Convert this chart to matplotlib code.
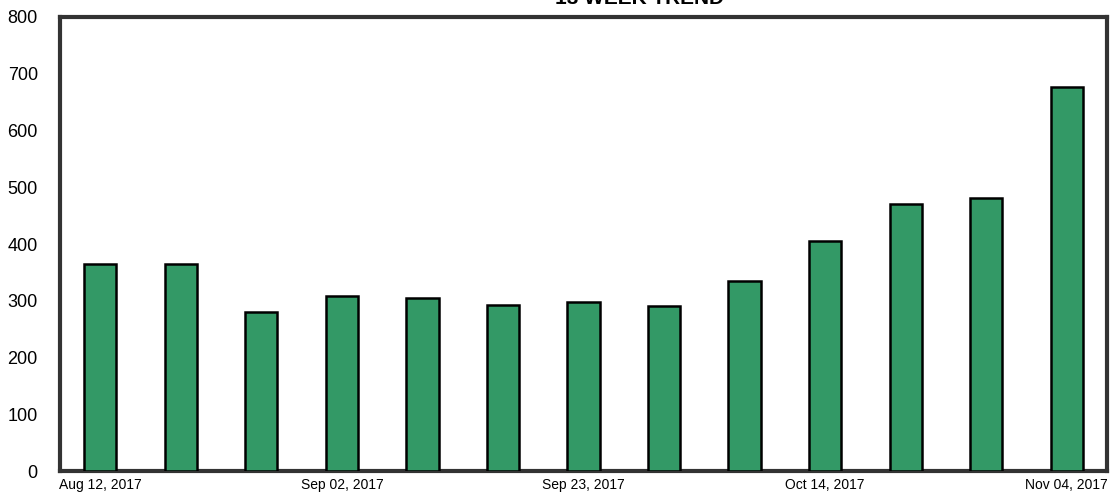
import matplotlib
matplotlib.use('Agg')
import matplotlib.pyplot as plt

weeks = ['Aug 12, 2017', 'Aug 19, 2017', 'Aug 26, 2017', 'Sep 02, 2017', 'Sep 09, 2017',
         'Sep 16, 2017', 'Sep 23, 2017', 'Sep 30, 2017', 'Oct 07, 2017', 'Oct 14, 2017',
         'Oct 21, 2017', 'Oct 28, 2017', 'Nov 04, 2017']
counts = [364, 364, 281, 309, 305, 293, 297, 291, 335, 406, 471, 481, 676]

plt.rcParams['font.family'] = ['Liberation Sans', 'DejaVu Sans']

fig = plt.figure(figsize=(11.12, 4.97), dpi=100)
ax = fig.add_axes([0.054, 0.0523, 0.9415, 0.9135])

x = list(range(len(weeks)))
ax.bar(x, counts, width=0.4, color='#339966', edgecolor='black', linewidth=1.8, zorder=3)

ax.set_xlim(-0.5, len(weeks) - 0.5)
ax.set_ylim(0, 800)
ax.set_yticks(range(0, 801, 100))
ax.set_xticks(x[::3])
ax.set_xticklabels(weeks[::3], fontsize=10)
ax.tick_params(axis='y', labelsize=13, length=0, pad=16)
ax.tick_params(axis='x', length=0, pad=5)

for s in ax.spines.values():
    s.set_linewidth(3)
    s.set_color('#333333')

fig.text(0.575, 0.992, '13 WEEK TREND', fontsize=15, fontweight='bold', ha='center', va='baseline')

fig.savefig('out.png', dpi=100)
